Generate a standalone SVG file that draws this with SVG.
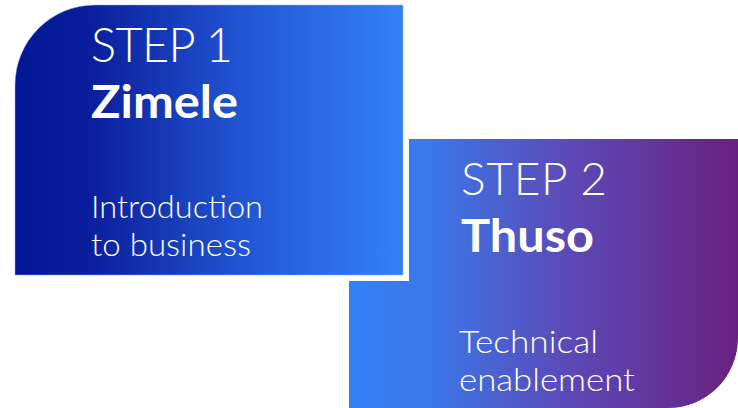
<svg xmlns="http://www.w3.org/2000/svg" width="738" height="408" viewBox="0 0 738 408">
<defs>
<linearGradient id="g1" x1="15" y1="0" x2="403" y2="0" gradientUnits="userSpaceOnUse">
<stop offset="0" stop-color="#031796"/>
<stop offset="0.2" stop-color="#0b1f9c"/>
<stop offset="0.6" stop-color="#2257d4"/>
<stop offset="1" stop-color="#3381f5"/>
</linearGradient>
<linearGradient id="g2" x1="349" y1="0" x2="738" y2="0" gradientUnits="userSpaceOnUse">
<stop offset="0" stop-color="#3381f5"/>
<stop offset="0.2" stop-color="#3a78ea"/>
<stop offset="0.55" stop-color="#5a4bb8"/>
<stop offset="1" stop-color="#6a2080"/>
</linearGradient>
<style>
.light{font-family:Lato,"Liberation Sans",sans-serif;font-weight:300;fill:#fff}
.bold{font-family:Lato,"Liberation Sans",sans-serif;font-weight:700;fill:#fff}
</style>
</defs>
<g id="step2">
<path d="M349 139 H738 V338 A70 70 0 0 1 668 408 H349 Z" fill="url(#g2)"/>
<text class="light" x="461" y="195" font-size="46" textLength="146" lengthAdjust="spacing">STEP 2</text>
<text class="bold" x="461" y="252" font-size="46" textLength="133" lengthAdjust="spacingAndGlyphs">Thuso</text>
<text class="light" x="459" y="353" font-size="32" textLength="139" lengthAdjust="spacingAndGlyphs">Technical</text>
<text class="light" x="459" y="391" font-size="32" textLength="176" lengthAdjust="spacingAndGlyphs">enablement</text>
</g>
<g id="step1">
<path d="M15 85 A80 80 0 0 1 95 5 H403 V275 H15 Z" fill="url(#g1)" stroke="#fff" stroke-width="12" paint-order="stroke"/>
<path d="M15 85 A80 80 0 0 1 95 5 H403 V275 H15 Z" fill="none" stroke="#8fb2f0" stroke-width="1" stroke-opacity="0.5"/>
<text class="light" x="91" y="62" font-size="47" textLength="142" lengthAdjust="spacing">STEP 1</text>
<text class="bold" x="91" y="118" font-size="46" textLength="147" lengthAdjust="spacingAndGlyphs">Zimele</text>
<text class="light" x="91" y="218" font-size="32" textLength="172" lengthAdjust="spacingAndGlyphs">Introduction</text>
<text class="light" x="91" y="256" font-size="32" textLength="160" lengthAdjust="spacingAndGlyphs">to business</text>
</g>
</svg>
